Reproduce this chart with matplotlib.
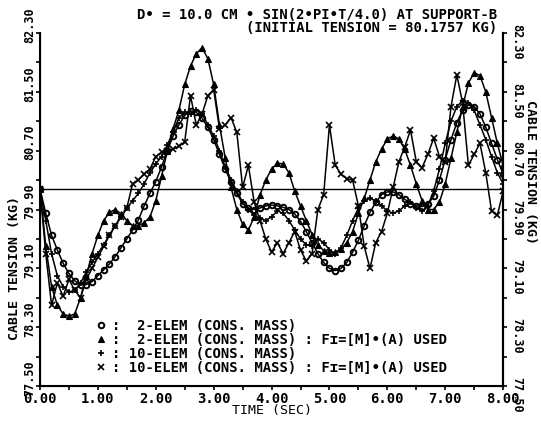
import matplotlib
matplotlib.use("Agg")
import matplotlib.pyplot as plt
import matplotlib.transforms as mtransforms
import numpy as np
from matplotlib.lines import Line2D

# time samples (sec)
time_s = np.round(np.arange(81) * 0.1, 1)

# cable tension (kg), one value per 0.1 s
elem2_cons = [
    80.18, 79.85, 79.55, 79.35, 79.17, 79.03, 78.93, 78.88, 78.88, 78.92,
    79.00, 79.08, 79.16, 79.26, 79.38, 79.50, 79.62, 79.76, 79.95, 80.12,
    80.28, 80.48, 80.70, 80.90, 81.05, 81.18, 81.24, 81.22, 81.14, 81.02,
    80.85, 80.65, 80.45, 80.27, 80.12, 79.98, 79.92, 79.90, 79.92, 79.95,
    79.96, 79.95, 79.93, 79.90, 79.84, 79.74, 79.60, 79.45, 79.30, 79.18,
    79.10, 79.07, 79.10, 79.18, 79.32, 79.48, 79.68, 79.86, 80.00, 80.10,
    80.14, 80.14, 80.10, 80.04, 79.98, 79.95, 79.94, 79.97, 80.08, 80.30,
    80.58, 80.85, 81.08, 81.25, 81.32, 81.30, 81.20, 81.02, 80.80, 80.58,
    80.38,
]
elem2_fma = [
    80.18, 79.40, 78.85, 78.60, 78.48, 78.45, 78.48, 78.70, 79.00, 79.30,
    79.55, 79.75, 79.86, 79.90, 79.84, 79.75, 79.68, 79.68, 79.72, 79.80,
    80.02, 80.35, 80.70, 81.00, 81.25, 81.60, 81.85, 82.02, 82.10, 81.95,
    81.60, 81.05, 80.60, 80.20, 79.90, 79.70, 79.62, 79.80, 80.10, 80.30,
    80.45, 80.53, 80.52, 80.40, 80.15, 79.95, 79.75, 79.56, 79.42, 79.34,
    79.31, 79.32, 79.36, 79.45, 79.60, 79.85, 80.05, 80.30, 80.55, 80.72,
    80.86, 80.90, 80.86, 80.72, 80.50, 80.25, 80.02, 79.90, 79.90, 80.00,
    80.25, 80.60, 80.95, 81.30, 81.62, 81.76, 81.72, 81.50, 81.15, 80.80,
    80.50,
]
elem10_cons = [
    80.18, 79.75, 79.30, 79.00, 78.85, 78.78, 78.80, 78.90, 79.05, 79.18,
    79.30, 79.42, 79.55, 79.68, 79.80, 79.92, 80.02, 80.12, 80.25, 80.40,
    80.52, 80.62, 80.78, 80.95, 81.15, 81.22, 81.20, 81.25, 81.20, 81.05,
    80.90, 80.70, 80.48, 80.30, 80.15, 80.00, 79.90, 79.82, 79.78, 79.75,
    79.80, 79.88, 79.85, 79.75, 79.62, 79.50, 79.42, 79.40, 79.50, 79.45,
    79.35, 79.30, 79.38, 79.55, 79.75, 79.92, 80.02, 80.05, 80.02, 79.95,
    79.88, 79.85, 79.88, 79.95, 80.00, 79.92, 79.88, 79.95, 80.15, 80.45,
    80.80, 81.10, 81.30, 81.38, 81.35, 81.25, 81.05, 80.85, 80.62, 80.40,
    80.25,
]
elem10_fma = [
    80.18, 79.30, 78.60, 78.90, 78.72, 78.95, 78.80, 78.70, 78.95, 79.10,
    79.25, 79.40, 79.55, 79.68, 79.80, 79.92, 80.25, 80.30, 80.38, 80.45,
    80.62, 80.68, 80.70, 80.72, 80.76, 80.82, 81.45, 81.05, 81.20, 81.45,
    81.53, 81.00, 81.05, 81.15, 80.95, 80.20, 80.50, 80.00, 79.75, 79.50,
    79.32, 79.45, 79.30, 79.45, 79.60, 79.35, 79.20, 79.30, 79.90, 80.10,
    81.05, 80.50, 80.38, 80.32, 80.30, 79.95, 79.40, 79.10, 79.45, 79.60,
    79.85, 80.20, 80.55, 80.75, 80.98, 80.55, 80.47, 80.65, 80.87, 80.62,
    80.55, 81.30, 81.73, 81.35, 80.50, 80.65, 80.80, 80.40, 79.88, 79.82,
    80.15,
]
initial_tension = 80.1757

legend_labels = [
    ":  2-ELEM (CONS. MASS)",
    ":  2-ELEM (CONS. MASS) : F\u026a=[M]\u2022(A) USED",
    ": 10-ELEM (CONS. MASS)",
    ": 10-ELEM (CONS. MASS) : F\u026a=[M]\u2022(A) USED",
]
y_major = [77.5, 78.3, 79.1, 79.9, 80.7, 81.5, 82.3]
y_minor = [77.9, 78.7, 79.5, 80.3, 81.1, 81.9]

plt.rcParams["font.family"] = ["DejaVu Sans Mono", "DejaVu Sans"]
plt.rcParams["font.weight"] = "bold"

fig = plt.figure(figsize=(5.41, 4.21), dpi=100)
ax = fig.add_axes([0.0739, 0.0831, 0.8561, 0.8385])

styles = [
    dict(marker="o", mfc="none", ms=4, mew=1.4),
    dict(marker="^", mfc="black", ms=4, mew=0.8),
    dict(marker="+", ms=5, mew=1.2),
    dict(marker="x", ms=4.5, mew=1.2),
]
series = [elem2_cons, elem2_fma, elem10_cons, elem10_fma]
for vals, st in zip(series, styles):
    ax.plot(time_s, vals, color="black", lw=1.1, **st)

ax.axhline(initial_tension, color="black", lw=1.0)

ax.set_xlim(0, 8)
ax.set_ylim(77.5, 82.3)
ax.spines["top"].set_visible(False)
for s in ["left", "bottom", "right"]:
    ax.spines[s].set_linewidth(1.5)

ax.set_xticks(np.arange(0, 9, 1.0))
ax.set_xticks(np.arange(0.5, 8, 1.0), minor=True)
ax.set_xticklabels(["%.2f" % v for v in range(9)], fontsize=10)
ax.tick_params(axis="x", which="both", direction="out", length=3, width=1.2, pad=1)

ax.set_yticks(y_major)
ax.set_yticks(y_minor, minor=True)
ax.set_yticklabels(["%.2f" % v for v in y_major], fontsize=8.5,
                   rotation=90, va="center")
ax.tick_params(axis="y", which="both", direction="out", length=3, width=1.2, pad=0)
up = mtransforms.ScaledTranslation(0, 0.08, fig.dpi_scale_trans)
for lab in ax.get_yticklabels():
    lab.set_transform(lab.get_transform() + up)

ax2 = ax.twinx()
ax2.set_ylim(ax.get_ylim())
ax2.spines["top"].set_visible(False)
ax2.spines["right"].set_linewidth(1.5)
ax2.set_yticks(y_major)
ax2.set_yticks(y_minor, minor=True)
ax2.set_yticklabels(["%.2f" % v for v in y_major], fontsize=8.5,
                    rotation=-90, va="center")
ax2.tick_params(axis="y", which="both", direction="out", length=3, width=1.2, pad=2)
down = mtransforms.ScaledTranslation(0, -0.085, fig.dpi_scale_trans)
for lab in ax2.get_yticklabels():
    lab.set_transform(lab.get_transform() + down)

ax.set_xlabel("TIME (SEC)", fontsize=9.5, labelpad=-1)
fig.text(0.026, 0.363, "CABLE TENSION (KG)", rotation=90, fontsize=9.5,
         ha="center", va="center")
fig.text(0.981, 0.591, "CABLE TENSION (KG)", rotation=-90, fontsize=9.5,
         ha="center", va="center")

fig.text(0.919, 0.950,
         "D\u2022 = 10.0 CM \u2022 SIN(2\u2022PI\u2022T/4.0) AT SUPPORT-B\n"
         "(INITIAL TENSION = 80.1757 KG)",
         fontsize=10, ha="right", va="center", multialignment="right",
         linespacing=0.9)

handles = [Line2D([], [], color="black", ls="none", **st) for st in styles]
ax.legend(handles, legend_labels, loc="lower left", bbox_to_anchor=(0.095, 0.0),
          frameon=False, handlelength=0.8, handletextpad=0.4,
          labelspacing=0.0, borderaxespad=0.4,
          prop={"size": 10, "weight": "bold"})

plt.savefig("out.png", dpi=100)
